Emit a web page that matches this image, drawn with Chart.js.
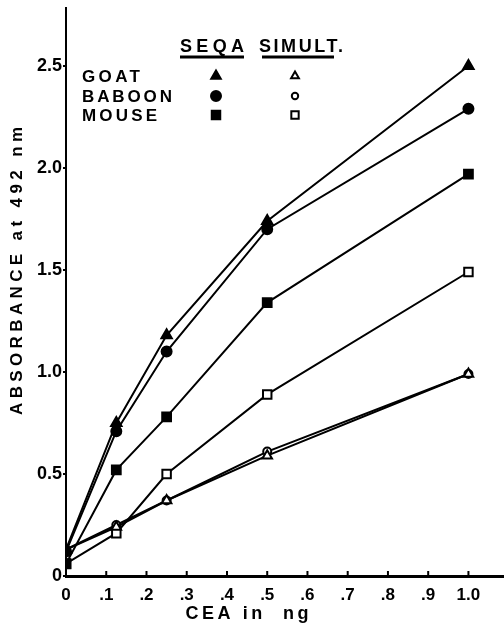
<!DOCTYPE html>
<html>
<head>
<meta charset="utf-8">
<script src="https://cdn.jsdelivr.net/npm/chart.js@4/dist/chart.umd.min.js"></script>
<style>
html,body{margin:0;padding:0;background:#fff;}
#wrap{width:504px;height:630px;position:relative;}
</style>
</head>
<body>
<div id="wrap"><canvas id="c" width="504" height="630"></canvas></div>
<script>
// ---- data ----
const cea = [0, 0.125, 0.25, 0.5, 1.0];
const goatSeqa   = [0.13, 0.75, 1.18, 1.74, 2.50];
const baboonSeqa = [0.12, 0.71, 1.10, 1.70, 2.29];
const mouseSeqa  = [0.06, 0.52, 0.78, 1.34, 1.97];
const goatSimult   = [0.13, 0.24, 0.37, 0.59, 0.99];
const baboonSimult = [0.13, 0.25, 0.37, 0.61, 0.99];
const mouseSimult  = [0.06, 0.21, 0.50, 0.89, 1.49];
const xTickValues = [0, 0.1, 0.2, 0.3, 0.4, 0.5, 0.6, 0.7, 0.8, 0.9, 1.0];
const xTickLabels = ['0', '.1', '.2', '.3', '.4', '.5', '.6', '.7', '.8', '.9', '1.0'];
const yTickValues = [0, 0.5, 1.0, 1.5, 2.0, 2.5];
const yTickLabels = ['0', '0.5', '1.0', '1.5', '2.0', '2.5'];
const legendRows = ['GOAT', 'BABOON', 'MOUSE'];
const legendHeads = ['SEQA', 'SIMULT.'];
const xTitle = 'CEA in  ng';
const yTitle = 'ABSORBANCE at 492 nm';

function pts(vals){ return cea.map((x,i)=>({x:x, y:vals[i]})); }
function ds(vals, style, filled, r){
  return {
    data: pts(vals), showLine: true, borderColor: '#000', borderWidth: 2,
    pointStyle: style, pointRadius: r, pointHoverRadius: r,
    pointBackgroundColor: filled ? '#000' : '#fff', pointBorderColor: '#000',
    pointBorderWidth: 2, tension: 0, fill: false
  };
}
const datasets = [
  ds(goatSeqa, 'triangle', true, 6),
  ds(baboonSeqa, 'circle', true, 5),
  ds(mouseSeqa, 'rect', true, 6.2),
  ds(goatSimult, 'triangle', false, 5.5),
  ds(baboonSimult, 'circle', false, 4),
  ds(mouseSimult, 'rect', false, 6)
];

const FONT = '"Liberation Sans", Arial, sans-serif';

function drawSpaced(ctx, text, x, y, spacing, align){
  ctx.letterSpacing = spacing + 'px';
  const w = ctx.measureText(text).width - spacing;
  let sx = align === 'center' ? x - w/2 : x;
  ctx.textAlign = 'left';
  ctx.fillText(text, sx, y);
  ctx.letterSpacing = '0px';
  return {x: sx, w: w};
}
function fitSpacing(ctx, text, target){
  ctx.letterSpacing = '0px';
  const w0 = ctx.measureText(text).width;
  return (target - w0) / Math.max(1, text.length - 1);
}

const decor = {
  id: 'decor',
  beforeDraw(chart){
    const ctx = chart.ctx;
    ctx.save();
    ctx.fillStyle = '#fff';
    ctx.fillRect(0,0,chart.width,chart.height);
    ctx.restore();
  },
  afterDraw(chart){
    const ctx = chart.ctx;
    const xs = chart.scales.x, ys = chart.scales.y;
    ctx.save();
    ctx.fillStyle = '#000';
    ctx.strokeStyle = '#000';
    // extend x axis line to the right edge
    ctx.lineWidth = 3;
    ctx.beginPath();
    ctx.moveTo(xs.right - 1, ys.bottom + 0.5);
    ctx.lineTo(chart.width, ys.bottom + 0.5);
    ctx.stroke();
    // inner x tick marks
    ctx.lineWidth = 2;
    xTickValues.forEach(v => {
      const px = xs.getPixelForValue(v);
      ctx.beginPath();
      ctx.moveTo(px, ys.bottom);
      ctx.lineTo(px, ys.bottom - 5);
      ctx.stroke();
    });
    // axis titles
    ctx.textBaseline = 'middle';
    ctx.font = 'bold 18px ' + FONT;
    let sp = fitSpacing(ctx, xTitle, 123);
    drawSpaced(ctx, xTitle, 247, 614, sp, 'center');

    ctx.save();
    ctx.translate(17, 271);
    ctx.rotate(-Math.PI/2);
    ctx.font = 'bold 17px ' + FONT;
    sp = fitSpacing(ctx, yTitle, 288);
    drawSpaced(ctx, yTitle, 0, 0, sp, 'center');
    ctx.restore();

    // legend headings
    ctx.font = 'bold 18px ' + FONT;
    ctx.textBaseline = 'alphabetic';
    const h1 = drawSpaced(ctx, legendHeads[0], 180, 52, fitSpacing(ctx, legendHeads[0], 64), 'left');
    drawSpaced(ctx, legendHeads[1], 259, 52, fitSpacing(ctx, legendHeads[1], 84), 'left');
    ctx.lineWidth = 3;
    ctx.beginPath();
    ctx.moveTo(h1.x, 57); ctx.lineTo(h1.x + h1.w, 57);
    ctx.moveTo(262, 57); ctx.lineTo(334, 57);
    ctx.stroke();

    // legend rows
    ctx.font = 'bold 17px ' + FONT;
    const rowY = [76, 96, 115];
    const rowW = [58, 90, 75];
    legendRows.forEach((t,i) => {
      ctx.textBaseline = 'middle';
      drawSpaced(ctx, t, 82, rowY[i] + 1, fitSpacing(ctx, t, rowW[i]), 'left');
    });
    const H = Chart.helpers;
    const styles = ['triangle','circle','rect'];
    const rS = [5.5, 5, 6];
    const rO = [4.5, 3.2, 5.2];
    styles.forEach((s,i) => {
      ctx.lineWidth = 2;
      ctx.fillStyle = '#000'; ctx.strokeStyle = '#000';
      H.drawPoint(ctx, {pointStyle: s, radius: rS[i], rotation: 0, borderWidth: 2}, 216, rowY[i]);
      ctx.fillStyle = '#fff';
      H.drawPoint(ctx, {pointStyle: s, radius: rO[i], rotation: 0, borderWidth: 2}, 295, rowY[i]);
    });
    ctx.restore();
  }
};

new Chart(document.getElementById('c'), {
  type: 'scatter',
  data: { datasets: datasets },
  options: {
    responsive: false,
    animation: false,
    events: [],
    layout: { padding: { top: 1, right: 0, left: 0, bottom: 0 } },
    plugins: { legend: { display: false }, tooltip: { enabled: false } },
    scales: {
      x: {
        type: 'linear', min: 0, max: 1.068,
        afterFit: s => { s.height = 54; },
        afterBuildTicks: s => { s.ticks = xTickValues.map(v => ({value: v})); },
        grid: { display: false, drawTicks: false },
        border: { display: true, color: '#000', width: 3 },
        ticks: {
          padding: 9, color: '#000',
          font: { family: FONT, size: 17, weight: 'bold' },
          maxRotation: 0, autoSkip: false,
          callback: (v) => { const i = xTickValues.findIndex(t => Math.abs(t - v) < 1e-6); return i >= 0 ? xTickLabels[i] : ''; }
        }
      },
      y: {
        type: 'linear', min: 0, max: 2.783,
        afterFit: s => { s.width = 66; s.paddingTop = 0; s.paddingBottom = 0; },
        afterBuildTicks: s => { s.ticks = yTickValues.map(v => ({value: v})); },
        grid: { drawOnChartArea: false, drawTicks: true, tickLength: 3, color: '#000', lineWidth: 2 },
        border: { display: true, color: '#000', width: 2 },
        ticks: {
          padding: 1, color: '#000',
          font: { family: FONT, size: 18, weight: 'bold' },
          autoSkip: false,
          callback: (v) => { const i = yTickValues.findIndex(t => Math.abs(t - v) < 1e-6); return i >= 0 ? yTickLabels[i] : ''; }
        }
      }
    }
  },
  plugins: [decor]
});
</script>
</body>
</html>
